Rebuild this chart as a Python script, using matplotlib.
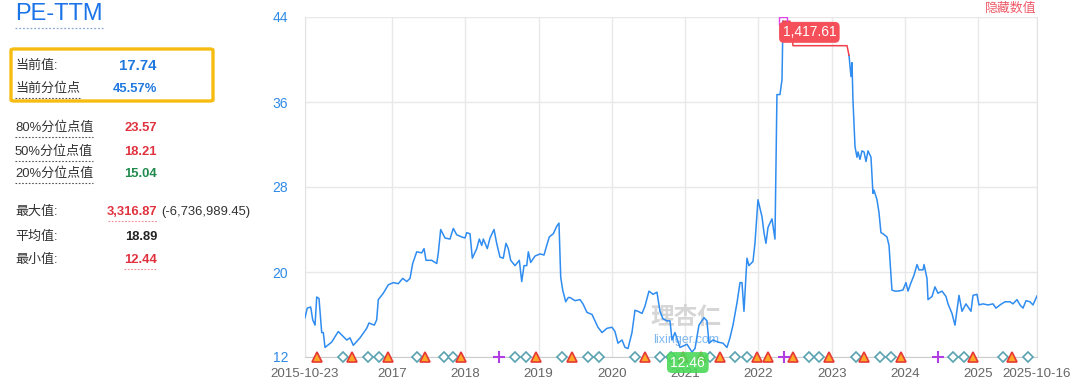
import matplotlib.pyplot as plt
from matplotlib.patches import FancyBboxPatch
from matplotlib.lines import Line2D

plt.rcParams['font.family'] = ['Liberation Sans', 'Noto Sans CJK SC']

# PE-TTM line, x in decimal years
years = [2015.813, 2015.844, 2015.891, 2015.918, 2015.950, 2015.973, 2016.004, 2016.041,
         2016.063, 2016.086, 2016.177, 2016.267, 2016.382, 2016.427, 2016.472, 2016.563,
         2016.655, 2016.686, 2016.759, 2016.791, 2016.813, 2016.881, 2016.950, 2017.018,
         2017.086, 2017.146, 2017.201, 2017.246, 2017.282, 2017.337, 2017.405, 2017.437,
         2017.464, 2017.542, 2017.610, 2017.632, 2017.664, 2017.723, 2017.791, 2017.836,
         2017.883, 2017.951, 2017.996, 2018.019, 2018.064, 2018.096, 2018.156, 2018.191,
         2018.224, 2018.246, 2018.300, 2018.337, 2018.392, 2018.428, 2018.473, 2018.518,
         2018.555, 2018.587, 2018.619, 2018.678, 2018.737, 2018.770, 2018.801, 2018.838,
         2018.860, 2018.892, 2018.951, 2019.019, 2019.074, 2019.111, 2019.146, 2019.201,
         2019.247, 2019.278, 2019.302, 2019.329, 2019.370, 2019.405, 2019.428, 2019.497,
         2019.565, 2019.606, 2019.660, 2019.729, 2019.770, 2019.810, 2019.865, 2019.933,
         2020.001, 2020.042, 2020.083, 2020.138, 2020.179, 2020.220, 2020.274, 2020.315,
         2020.356, 2020.411, 2020.452, 2020.506, 2020.561, 2020.615, 2020.656, 2020.697,
         2020.752, 2020.793, 2020.820, 2020.861, 2020.929, 2021.025, 2021.093, 2021.134,
         2021.188, 2021.257, 2021.297, 2021.325, 2021.379, 2021.448, 2021.516, 2021.570,
         2021.611, 2021.652, 2021.707, 2021.748, 2021.775, 2021.802, 2021.843, 2021.870,
         2021.925, 2021.952, 2021.993, 2022.048, 2022.075, 2022.102, 2022.130, 2022.184,
         2022.225, 2022.252, 2022.293, 2022.321, 2022.334]
pe = [15.7, 16.6, 16.7, 15.5, 15.0, 17.65, 17.5, 14.3,
      14.3, 12.9, 13.4, 14.4, 13.6, 13.8, 13.1, 13.8,
      14.7, 15.2, 15.0, 15.5, 17.4, 18.0, 18.8, 19.0,
      18.9, 19.4, 19.1, 19.4, 20.8, 21.9, 21.8, 22.2,
      21.1, 21.1, 20.8, 21.8, 24.0, 23.2, 23.1, 24.1,
      23.5, 23.3, 23.2, 23.7, 23.6, 21.3, 22.2, 23.1,
      22.5, 23.1, 22.2, 23.2, 24.0, 22.7, 21.4, 21.3,
      22.7, 22.2, 21.1, 20.6, 21.1, 19.1, 20.6, 20.6,
      21.9, 20.9, 21.5, 21.7, 21.6, 22.5, 23.3, 23.6,
      24.3, 24.6, 19.5, 18.3, 17.2, 17.6, 17.6, 17.3,
      17.4, 17.0, 16.2, 16.0, 15.4, 14.8, 14.3, 14.7,
      14.8, 14.4, 13.3, 13.6, 12.9, 12.8, 14.3, 16.4,
      16.3, 16.1, 16.8, 18.2, 17.9, 18.1, 16.3, 15.6,
      15.4, 15.4, 13.6, 14.3, 12.9, 13.2, 12.46, 12.8,
      15.0, 15.7, 15.4, 13.3, 13.6, 13.4, 13.3, 12.9,
      13.8, 15.0, 17.1, 19.0, 19.0, 16.3, 21.3, 20.6,
      21.0, 22.7, 26.8, 25.2, 23.7, 22.7, 24.2, 25.0,
      23.1, 36.7, 36.7, 38.1, 43.6]

# stretch above the axis ceiling (real PE far off scale), drawn red
cap_years = [2022.334, 2022.430, 2022.471, 2023.208, 2023.235]
cap_pe = [43.6, 43.6, 41.3, 41.3, 40.4]

years2 = [2023.235, 2023.262, 2023.276, 2023.289, 2023.317, 2023.344, 2023.358, 2023.385,
          2023.412, 2023.440, 2023.467, 2023.494, 2023.535, 2023.562, 2023.576, 2023.617,
          2023.644, 2023.671, 2023.699, 2023.753, 2023.781, 2023.821, 2023.862, 2023.903,
          2023.971, 2024.012, 2024.040, 2024.081, 2024.122, 2024.163, 2024.190, 2024.245,
          2024.259, 2024.299, 2024.313, 2024.368, 2024.408, 2024.449, 2024.504, 2024.558,
          2024.586, 2024.640, 2024.681, 2024.708, 2024.736, 2024.777, 2024.831, 2024.899,
          2024.927, 2024.981, 2025.008, 2025.063, 2025.131, 2025.200, 2025.240, 2025.295,
          2025.363, 2025.431, 2025.472, 2025.527, 2025.568, 2025.609, 2025.650, 2025.704,
          2025.745, 2025.800]
pe2 = [40.4, 38.4, 39.7, 36.2, 31.8, 30.8, 31.3, 30.6,
       31.4, 31.3, 30.4, 31.4, 30.8, 27.4, 27.7, 26.8,
       25.6, 23.7, 23.6, 23.3, 22.5, 18.3, 18.2, 18.2,
       18.3, 19.0, 18.2, 19.0, 19.7, 20.7, 20.2, 20.2,
       20.7, 19.4, 17.4, 17.7, 18.6, 18.0, 18.2, 17.7,
       17.0, 16.1, 15.0, 16.4, 17.8, 16.3, 17.0, 16.3,
       17.8, 17.9, 16.9, 17.0, 16.9, 17.0, 16.6, 16.9,
       17.2, 17.2, 17.0, 17.4, 16.9, 16.6, 17.3, 17.2,
       16.9, 17.74]

# event markers along the bottom
report_years = [2016.336, 2016.677, 2016.827, 2017.337, 2017.709, 2017.828, 2018.678, 2018.824,
                2019.315, 2019.678, 2019.828, 2020.315, 2020.656, 2020.802, 2021.337, 2021.679,
                2021.847, 2022.693, 2022.829, 2023.330, 2023.657, 2023.807, 2024.657, 2024.807,
                2025.331, 2025.672]
div_years = [2015.973, 2016.450, 2016.941, 2017.450, 2017.941, 2018.960, 2019.452, 2020.452,
             2020.966, 2021.211, 2021.475, 2021.984, 2022.134, 2022.467, 2022.962, 2023.444,
             2023.940, 2024.930, 2025.462]
plus_years = [2018.460, 2022.355, 2024.453]

yticks = [12, 20, 28, 36, 44]
xticks = [2015.813, 2017, 2018, 2019, 2020, 2021, 2022, 2023, 2024, 2025, 2025.80]
xlabels = ['2015-10-23', '2017', '2018', '2019', '2020', '2021', '2022', '2023',
           '2024', '2025', '2025-10-16']

stat_labels = ['80%分位点值', '50%分位点值', '20%分位点值']
stat_values = ['23.57', '18.21', '15.04']
stat_colors = ['#e0313f', '#e0313f', '#1f8a4c']

W, H = 1080, 391


def fx(x):
    return x / W


def fy(y):
    return 1 - y / H


fig = plt.figure(figsize=(W / 100, H / 100), dpi=100)
ax = fig.add_axes([fx(305), fy(357), 732 / W, 340 / H])

blue = '#2f8cf0'
ax.plot(years, pe, color=blue, lw=1.1, zorder=3)
ax.plot(years2, pe2, color=blue, lw=1.1, zorder=3)
ax.plot(cap_years, cap_pe, color='#f0404c', lw=1.1, zorder=3)
ax.plot(cap_years[0], cap_pe[0], marker='s', ms=6, mfc='none', mec='#e040e8', mew=1, zorder=4)

ax.set_xlim(xticks[0], xticks[-1])
ax.set_ylim(12, 44)
ax.set_yticks(yticks)
ax.set_xticks(xticks)
ax.set_xticklabels(xlabels)
ax.tick_params(axis='y', length=0, pad=12, labelsize=10, labelcolor='#2f8ae6')
ax.tick_params(axis='x', length=0, pad=8, labelsize=9.6, labelcolor='#666666')
ax.grid(True, color='#e8e8e8', lw=1)
ax.set_axisbelow(True)
for s in ['left', 'right']:
    ax.spines[s].set_color('#e3e3e3')
ax.spines['top'].set_visible(False)
ax.spines['bottom'].set_color('#cccccc')

ax.plot(report_years, [12] * len(report_years), ls='none', marker='D', ms=5.5,
        mfc='white', mec='#5aa2b0', mew=1.2, clip_on=False, zorder=5)
ax.plot(div_years, [12] * len(div_years), ls='none', marker='^', ms=7,
        mfc='#ffa726', mec='#e53935', mew=1.2, clip_on=False, zorder=5)
ax.plot(plus_years, [12] * len(plus_years), ls='none', marker='+', ms=8,
        color='#b03ee0', mew=1.5, clip_on=False, zorder=5)

# watermark
ax.text(0.52, 0.115, '理杏仁', transform=ax.transAxes, fontsize=17, color='#d6d6d6',
        fontweight='bold', ha='center', va='center', zorder=2)
ax.text(0.52, 0.05, 'lixinger.com', transform=ax.transAxes, fontsize=9, color='#4a9be8',
        alpha=0.7, ha='center', va='center', zorder=2)

# max / min labels
ax.annotate('1,417.61', xy=(cap_years[0], cap_pe[0]), xytext=(19, -8),
            textcoords='offset points', ha='center', va='center', color='white', fontsize=10,
            bbox=dict(boxstyle='round,pad=0.25,rounding_size=0.35', fc='#f5505a', ec='none'),
            zorder=6, annotation_clip=False)
imin = pe.index(min(pe))
ax.annotate('12.46', xy=(years[imin], pe[imin]), xytext=(-3, -7.5),
            textcoords='offset points', ha='center', va='center', color='white', fontsize=10,
            bbox=dict(boxstyle='round,pad=0.25,rounding_size=0.35', fc='#4cd95a', ec='none',
                      alpha=0.9),
            zorder=6, annotation_clip=False)

fig.text(fx(1036), fy(9), '隐藏数值', ha='right', va='center', fontsize=9.3, color='#ee5a68')

# left info panel
dark = '#333333'
fig.text(fx(15), fy(14), 'PE-TTM', ha='left', va='center', fontsize=17, color='#1a73e8')
fig.add_artist(Line2D([fx(15), fx(103)], [fy(28), fy(28)], ls=(0, (1.5, 1.5)), lw=0.9,
                      color='#8aa6d0'))

fig.add_artist(FancyBboxPatch((fx(11), fy(101)), fx(202), 52 / H,
                              boxstyle='round,pad=0,rounding_size=0.003',
                              fill=False, ec='#f7bc12', lw=2.4, transform=fig.transFigure))

fig.text(fx(15), fy(66), '当前值:', ha='left', va='center', fontsize=9.4, color=dark)
fig.text(fx(157), fy(66), '17.74', ha='right', va='center', fontsize=10.8, color='#1f78e0',
         fontweight='bold')
fig.text(fx(15), fy(89), '当前分位点', ha='left', va='center', fontsize=9.4, color=dark)
fig.add_artist(Line2D([fx(15), fx(80)], [fy(98), fy(98)], ls=(0, (1.5, 1.5)), lw=0.8,
                      color='#555555'))
fig.text(fx(157), fy(89), '45.57%', ha='right', va='center', fontsize=9.4, color='#1f78e0',
         fontweight='bold')

for lab, val, col, yy in zip(stat_labels, stat_values, stat_colors, [128, 152, 174]):
    fig.text(fx(15), fy(yy), lab, ha='left', va='center', fontsize=9.4, color=dark)
    fig.add_artist(Line2D([fx(15), fx(93)], [fy(yy + 9), fy(yy + 9)], ls=(0, (1.5, 1.5)),
                          lw=0.8, color='#555555'))
    fig.text(fx(157), fy(yy), val, ha='right', va='center', fontsize=9.4, color=col,
             fontweight='bold')

fig.text(fx(15), fy(212), '最大值:', ha='left', va='center', fontsize=9.4, color=dark)
fig.text(fx(157), fy(212), '3,316.87', ha='right', va='center', fontsize=9.4,
         color='#e0313f', fontweight='bold')
fig.add_artist(Line2D([fx(108), fx(157)], [fy(221), fy(221)], ls=(0, (1.5, 1.5)), lw=0.8,
                      color='#f08a94'))
fig.text(fx(161), fy(212), '(-6,736,989.45)', ha='left', va='center', fontsize=9.4,
         color=dark)
fig.text(fx(15), fy(237), '平均值:', ha='left', va='center', fontsize=9.4, color=dark)
fig.text(fx(157), fy(237), '18.89', ha='right', va='center', fontsize=9.4, color='#222222',
         fontweight='bold')
fig.text(fx(15), fy(260), '最小值:', ha='left', va='center', fontsize=9.4, color=dark)
fig.text(fx(157), fy(260), '12.44', ha='right', va='center', fontsize=9.4,
         color='#e0313f', fontweight='bold')
fig.add_artist(Line2D([fx(124), fx(157)], [fy(269), fy(269)], ls=(0, (1.5, 1.5)), lw=0.8,
                      color='#f08a94'))

fig.savefig('out.png', dpi=100)
